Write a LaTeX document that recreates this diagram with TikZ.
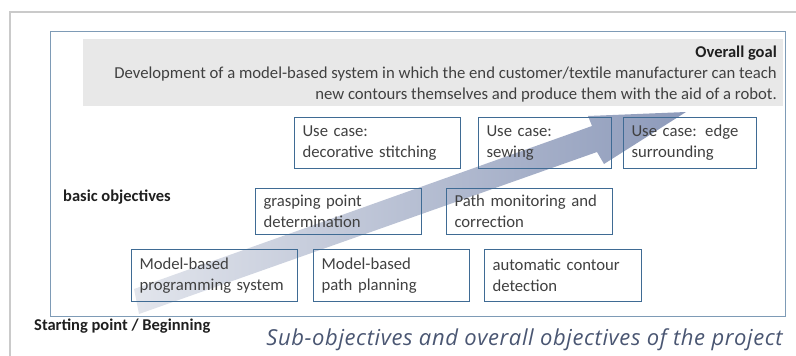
\documentclass[tikz,border=0pt]{standalone}
\usepackage{fontspec}
\setmainfont{Carlito}
\newfontfamily\capfont[LetterSpace=2.8]{Open Sans}
\begin{document}
\begin{tikzpicture}[x=1pt,y=-1pt,
  txt/.style={text=textgray,font=\fontsize{16.7}{21}\selectfont,inner sep=0pt},
  boldlbl/.style={text=black!88,font=\fontsize{16.5}{19}\selectfont\bfseries,inner sep=0pt},
  objbox/.style={draw=boxblue,line width=1pt,anchor=north west,align=left,
    inner xsep=8pt,inner ysep=0pt,text=textgray,font=\fontsize{16.7}{21}\selectfont}]
\definecolor{textgray}{HTML}{404040}
\definecolor{boxblue}{HTML}{3F6B94}
\definecolor{frameblue}{HTML}{7E9BB6}
\definecolor{bandgray}{HTML}{E8E8E8}
\definecolor{outergray}{HTML}{CACACA}
\definecolor{arrowlo}{HTML}{E2E5EC}
\definecolor{arrowhi}{HTML}{8D9ABA}
\definecolor{captionblue}{HTML}{4A5672}
\useasboundingbox (0,0) rectangle (796,356);
% outer frame
\draw[outergray,line width=1.5pt] (10,356) -- (10,12) -- (796,12);
% inner frame
\draw[frameblue,line width=1pt] (50.5,31) rectangle (785.5,316);
% gray band
\fill[bandgray] (83,39) rectangle (783,106);
\node[boldlbl,anchor=east] (goal) at (777,53) {Overall goal};
\node[txt,anchor=east,align=right] (goaltext) at (777,85)
  {Development of a model-based system in which the end customer/textile manufacturer can teach\\
   new contours themselves and produce them with the aid of a robot.};
% big arrow
\shade[left color=arrowlo,right color=arrowhi]
  (134,289) -- (592,126) -- (588,116) -- (686,112) -- (604,164) -- (597,152) -- (139,314) -- cycle;
% boxes
\node[objbox,minimum width=166pt,minimum height=51pt,text width=150pt] (uc1) at (294,117) {Use case:\\decorative stitching};
\node[objbox,minimum width=133pt,minimum height=51pt,text width=117pt] (uc2) at (478,117) {Use case:\\sewing};
\node[objbox,minimum width=133pt,minimum height=51pt,text width=117pt] (uc3) at (623,117) {Use case: edge\\surrounding};
\node[objbox,minimum width=166pt,minimum height=46pt,text width=150pt] (grasp) at (255,188) {grasping point\\determination};
\node[objbox,minimum width=166pt,minimum height=46pt,text width=150pt] (pathmon) at (446,188) {Path monitoring and\\correction};
\node[objbox,minimum width=166pt,minimum height=52pt,text width=150pt] (mbps) at (131,249) {Model-based\\programming system};
\node[objbox,minimum width=156pt,minimum height=52pt,text width=140pt] (mbpp) at (313,249) {Model-based\\path planning};
\node[objbox,minimum width=157pt,minimum height=52pt,text width=141pt] (acd) at (484,249) {automatic contour\\detection};
% labels
\node[boldlbl,anchor=west] (basic) at (63,197) {basic objectives};
\node[boldlbl,anchor=west] (start) at (34,326) {Starting point / Beginning};
\node[anchor=east,inner sep=0pt,text=captionblue,font=\capfont\fontsize{22}{26}\selectfont\itshape] (caption) at (783,340)
  {Sub-objectives and overall objectives of the project};
\end{tikzpicture}
\end{document}
